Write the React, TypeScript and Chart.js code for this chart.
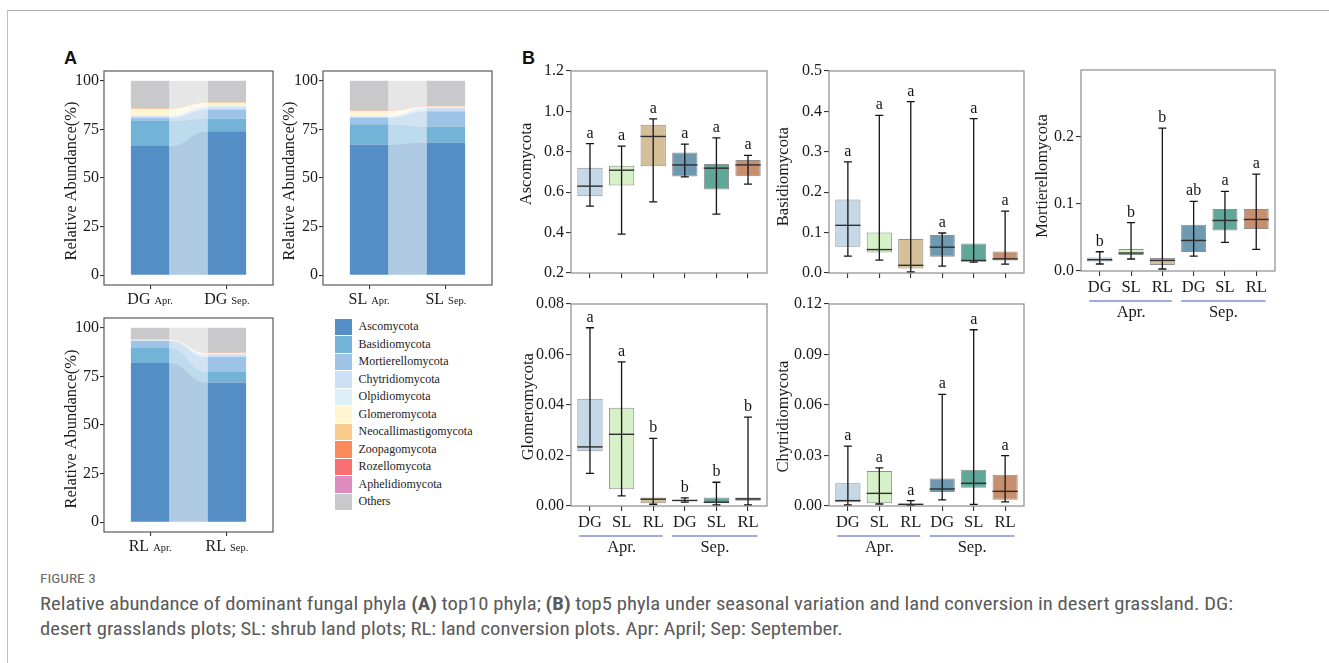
import React, { useEffect, useLayoutEffect, useRef, useState } from 'react';
import { Chart, registerables } from 'chart.js';

Chart.register(...registerables);

const SERIF = "'Liberation Serif', Tinos, 'Times New Roman', serif";
const SANS = "'Liberation Sans', Arial, Helvetica, sans-serif";
const CAPTION_FONT = "'Roboto Condensed', 'Liberation Sans Narrow', 'Open Sans', sans-serif";

// ---------------- Panel A: relative abundance (%) of top10 phyla ----------------
const phyla = [
  'Ascomycota',
  'Basidiomycota',
  'Mortierellomycota',
  'Chytridiomycota',
  'Olpidiomycota',
  'Glomeromycota',
  'Neocallimastigomycota',
  'Zoopagomycota',
  'Rozellomycota',
  'Aphelidiomycota',
  'Others',
];
const dgApr = [66.4, 12.9, 1.7, 0.8, 0.4, 3.3, 0.2, 0.05, 0.05, 0.05, 14.15];
const dgSep = [74.0, 6.5, 4.7, 1.2, 0.6, 1.6, 0.2, 0.1, 0.05, 0.05, 11.0];
const slApr = [67.2, 10.4, 3.4, 0.6, 0.4, 2.4, 0.2, 0.1, 0.05, 0.05, 15.2];
const slSep = [68.2, 8.3, 7.8, 1.7, 0.4, 0.3, 0.1, 0.1, 0.05, 0.05, 13.0];
const rlApr = [81.9, 7.7, 3.6, 0.2, 0.1, 0.3, 0.05, 0.05, 0.02, 0.02, 6.06];
const rlSep = [71.9, 5.3, 7.8, 1.2, 0.3, 0.3, 0.3, 0.1, 0.05, 0.05, 12.7];
const abundanceTicks = [0, 25, 50, 75, 100];

// ---------------- Panel B: box statistics [min, Q1, median, Q3, max] ----------------
const sites = ['DG', 'SL', 'RL', 'DG', 'SL', 'RL'];
const seasons = ['Apr.', 'Sep.'];

const ascomycota = [
  [0.531, 0.58, 0.63, 0.721, 0.84],
  [0.392, 0.633, 0.709, 0.731, 0.828],
  [0.552, 0.729, 0.876, 0.934, 0.963],
  [0.676, 0.678, 0.735, 0.797, 0.838],
  [0.491, 0.613, 0.719, 0.739, 0.869],
  [0.64, 0.679, 0.735, 0.759, 0.782],
];
const ascomycotaLetters = ['a', 'a', 'a', 'a', 'a', 'a'];
const ascomycotaTicks = [0.2, 0.4, 0.6, 0.8, 1.0, 1.2];

const basidiomycota = [
  [0.042, 0.065, 0.118, 0.182, 0.275],
  [0.032, 0.051, 0.058, 0.1, 0.39],
  [0.0025, 0.011, 0.019, 0.084, 0.424],
  [0.017, 0.04, 0.064, 0.094, 0.099],
  [0.027, 0.028, 0.031, 0.073, 0.382],
  [0.022, 0.031, 0.035, 0.053, 0.153],
];
const basidiomycotaLetters = ['a', 'a', 'a', 'a', 'a', 'a'];
const basidiomycotaTicks = [0, 0.1, 0.2, 0.3, 0.4, 0.5];

const mortierellomycota = [
  [0.0104, 0.0143, 0.0168, 0.0203, 0.0287],
  [0.0179, 0.0238, 0.0268, 0.0327, 0.072],
  [0.003, 0.0089, 0.0158, 0.0193, 0.213],
  [0.0223, 0.0283, 0.0455, 0.0689, 0.1036],
  [0.0426, 0.0604, 0.0753, 0.0923, 0.1185],
  [0.0321, 0.0625, 0.0768, 0.0923, 0.1443],
];
const mortierellomycotaLetters = ['b', 'b', 'b', 'ab', 'a', 'a'];
const mortierellomycotaTicks = [0, 0.1, 0.2];

const glomeromycota = [
  [0.0129, 0.0217, 0.0234, 0.0425, 0.0706],
  [0.004, 0.0066, 0.0284, 0.0389, 0.0571],
  [0.0007, 0.0011, 0.0027, 0.0034, 0.0268],
  [0.0015, 0.0019, 0.0022, 0.0023, 0.0032],
  [0.0004, 0.0011, 0.0015, 0.0034, 0.0094],
  [0.0004, 0.0021, 0.0028, 0.0034, 0.0352],
];
const glomeromycotaLetters = ['a', 'a', 'b', 'b', 'b', 'b'];
const glomeromycotaTicks = [0, 0.02, 0.04, 0.06, 0.08];

const chytridiomycota = [
  [0.0006, 0.0022, 0.0032, 0.0135, 0.0356],
  [0.0012, 0.0016, 0.0075, 0.0208, 0.0226],
  [0.0004, 0.0006, 0.001, 0.0014, 0.0032],
  [0.0036, 0.0083, 0.0101, 0.0164, 0.0663],
  [0.001, 0.0109, 0.0135, 0.0216, 0.1047],
  [0.0024, 0.0037, 0.0087, 0.0186, 0.0299],
];
const chytridiomycotaLetters = ['a', 'a', 'a', 'a', 'a', 'a'];
const chytridiomycotaTicks = [0, 0.03, 0.06, 0.09, 0.12];

// ---------------- styles ----------------
const phylumRGB: number[][] = [
  [84, 142, 196],
  [116, 179, 216],
  [157, 196, 230],
  [205, 223, 245],
  [222, 240, 247],
  [255, 245, 208],
  [250, 205, 142],
  [250, 138, 90],
  [248, 112, 112],
  [222, 140, 192],
  [201, 201, 203],
];
const solid = (c: number[]) => `rgb(${c[0]},${c[1]},${c[2]})`;
const faded = (c: number[]) => `rgba(${c[0]},${c[1]},${c[2]},0.47)`;
const boxFill = [
  'rgb(196,216,231)',
  'rgb(214,240,200)',
  'rgb(213,191,152)',
  'rgb(111,152,177)',
  'rgb(96,167,153)',
  'rgb(199,143,110)',
];

interface Area { l: number; t: number; r: number; b: number }
interface Dims {
  yAxisW: number; xAxisH: number; padTop: number; padRight: number;
  title: string; titleX: number; titleY: number;
}

function yTitlePlugin(d: Dims) {
  return {
    id: 'yTitle',
    afterDraw(chart: any) {
      const ctx = chart.ctx;
      ctx.save();
      ctx.translate(d.titleX, d.titleY);
      ctx.rotate(-Math.PI / 2);
      ctx.font = `16.5px ${SERIF}`;
      ctx.fillStyle = '#1a1a1a';
      ctx.textAlign = 'center';
      ctx.textBaseline = 'middle';
      ctx.fillText(d.title, 0, 0);
      ctx.restore();
    },
  };
}

function framePlugin(color: string) {
  return {
    id: 'frame',
    afterDraw(chart: any) {
      const { ctx, chartArea: a } = chart;
      ctx.save();
      ctx.strokeStyle = color;
      ctx.lineWidth = 1.2;
      ctx.strokeRect(a.left, a.top, a.right - a.left, a.bottom - a.top);
      ctx.restore();
    },
  };
}

function baseOptions(d: Dims) {
  return {
    responsive: false,
    animation: false,
    devicePixelRatio: 1,
    events: [],
    layout: { padding: { left: 0, right: d.padRight, top: d.padTop, bottom: 0 } },
    plugins: { legend: { display: false }, tooltip: { enabled: false } },
  };
}

function yAxis(d: Dims, min: number, max: number, ticks: number[], decimals: number, tickLen: number, pad: number, stacked = false) {
  return {
    type: 'linear',
    min,
    max,
    stacked,
    grid: { display: true, drawOnChartArea: false, drawTicks: true, tickLength: tickLen, tickColor: '#333', lineWidth: 1.1 },
    border: { display: false },
    ticks: {
      font: { family: SERIF, size: 16 },
      color: '#1a1a1a',
      padding: pad,
      callback: (v: any) => Number(v).toFixed(decimals),
    },
    afterBuildTicks: (s: any) => { s.ticks = ticks.map((v) => ({ value: v })); },
    afterFit: (s: any) => { s.width = d.yAxisW; s.paddingTop = 0; s.paddingBottom = 0; },
  };
}

function xAxis(d: Dims, min: number, max: number, tickValues: number[], labels: string[] | null, tickLen: number, stacked = false) {
  return {
    type: 'linear',
    min,
    max,
    offset: false,
    stacked,
    grid: { display: true, offset: false, drawOnChartArea: false, drawTicks: true, tickLength: tickLen, tickColor: '#333', lineWidth: 1.1 },
    border: { display: false },
    ticks: {
      display: !!labels,
      autoSkip: false,
      maxRotation: 0,
      minRotation: 0,
      font: { family: SERIF, size: 16.5 },
      color: '#1a1a1a',
      padding: 2,
      callback: (v: any) => (labels ? labels[Math.round(Number(v)) - 1] ?? '' : ''),
    },
    afterBuildTicks: (s: any) => { s.ticks = tickValues.map((v) => ({ value: v })); },
    afterFit: (s: any) => { s.height = d.xAxisH; s.paddingLeft = 0; s.paddingRight = 0; },
  };
}

// ---------- Panel A (alluvial stacked bars) ----------
function flowPlugin() {
  return {
    id: 'flows',
    beforeDatasetsDraw(chart: any) {
      const ctx = chart.ctx;
      chart.data.datasets.forEach((_ds: any, i: number) => {
        const meta = chart.getDatasetMeta(i);
        const a: any = meta.data[0];
        const b: any = meta.data[1];
        const x1 = a.x + a.width / 2;
        const x2 = b.x - b.width / 2;
        const xm = (x1 + x2) / 2;
        ctx.save();
        ctx.beginPath();
        ctx.moveTo(x1, a.y);
        ctx.bezierCurveTo(xm, a.y, xm, b.y, x2, b.y);
        ctx.lineTo(x2, b.base);
        ctx.bezierCurveTo(xm, b.base, xm, a.base, x1, a.base);
        ctx.closePath();
        ctx.fillStyle = faded(phylumRGB[i]);
        ctx.fill();
        ctx.restore();
      });
    },
  };
}

function pairLabelPlugin(site: string) {
  return {
    id: 'pairLabels',
    afterDraw(chart: any) {
      const { ctx, chartArea, scales } = chart;
      seasons.forEach((season, i) => {
        const px = scales.x.getPixelForValue(i + 1);
        ctx.save();
        ctx.fillStyle = '#1a1a1a';
        ctx.textBaseline = 'alphabetic';
        ctx.textAlign = 'left';
        ctx.font = `16px ${SERIF}`;
        const w1 = ctx.measureText(site + ' ').width;
        ctx.font = `10.5px ${SERIF}`;
        const w2 = ctx.measureText(season).width;
        const start = px - (w1 + w2) / 2;
        const yb = chartArea.bottom + 19;
        ctx.font = `16px ${SERIF}`;
        ctx.fillText(site, start, yb);
        ctx.font = `10.5px ${SERIF}`;
        ctx.fillText(season, start + w1, yb);
        ctx.restore();
      });
    },
  };
}

function alluvialConfig(site: string, apr: number[], sep: number[], d: Dims) {
  const datasets = phyla.map((name, i) => ({
    label: name,
    data: [{ x: 1, y: apr[i] }, { x: 2, y: sep[i] }],
    backgroundColor: solid(phylumRGB[i]),
    borderWidth: 0,
    barPercentage: 0.5,
    categoryPercentage: 1,
    stack: 'all',
  }));
  return {
    type: 'bar',
    data: { datasets },
    options: {
      ...baseOptions(d),
      scales: {
        x: xAxis(d, 0.4, 2.6, [1, 2], null, 4, true),
        y: yAxis(d, -5, 105, abundanceTicks, 0, 4, 1, true),
      },
    },
    plugins: [flowPlugin(), framePlugin('#5a5a5a'), yTitlePlugin(d), pairLabelPlugin(site)],
  };
}

// ---------- Panel B (box plots) ----------
function boxPlugin(stats: number[][], letters: string[]) {
  return {
    id: 'boxWhiskers',
    afterDatasetsDraw(chart: any) {
      const { ctx, scales } = chart;
      const meta = chart.getDatasetMeta(0);
      stats.forEach((s, i) => {
        const el: any = meta.data[i];
        const px = scales.x.getPixelForValue(i + 1);
        const half = el.width / 2;
        const yLo = scales.y.getPixelForValue(s[0]);
        const yMed = scales.y.getPixelForValue(s[2]);
        const yHi = scales.y.getPixelForValue(s[4]);
        ctx.save();
        ctx.strokeStyle = '#151515';
        ctx.lineWidth = 1.3;
        ctx.beginPath();
        ctx.moveTo(px, yLo); ctx.lineTo(px, yHi);
        ctx.moveTo(px - 4, yLo); ctx.lineTo(px + 4, yLo);
        ctx.moveTo(px - 4, yHi); ctx.lineTo(px + 4, yHi);
        ctx.stroke();
        ctx.strokeStyle = '#2e2e2e';
        ctx.lineWidth = 1.4;
        ctx.beginPath();
        ctx.moveTo(px - half, yMed); ctx.lineTo(px + half, yMed);
        ctx.stroke();
        ctx.fillStyle = '#151515';
        ctx.font = `16px ${SERIF}`;
        ctx.textAlign = 'center';
        ctx.textBaseline = 'alphabetic';
        ctx.fillText(letters[i], px, yHi - 6);
        ctx.restore();
      });
    },
  };
}

function groupPlugin() {
  return {
    id: 'groups',
    afterDraw(chart: any) {
      const { ctx, chartArea, scales } = chart;
      const x = scales.x;
      const yl = chartArea.bottom + 30;
      const spans = [[0.66, 3.3], [3.6, 6.3]];
      const centers = [2, 4.95];
      ctx.save();
      ctx.strokeStyle = '#7b90d3';
      ctx.lineWidth = 1.4;
      spans.forEach(([a, b]) => {
        ctx.beginPath();
        ctx.moveTo(x.getPixelForValue(a), yl);
        ctx.lineTo(x.getPixelForValue(b), yl);
        ctx.stroke();
      });
      ctx.fillStyle = '#1a1a1a';
      ctx.font = `16.5px ${SERIF}`;
      ctx.textAlign = 'center';
      ctx.textBaseline = 'middle';
      seasons.forEach((s, i) => ctx.fillText(s, x.getPixelForValue(centers[i]), chartArea.bottom + 42));
      ctx.restore();
    },
  };
}

function boxConfig(stats: number[][], letters: string[], ticks: number[], max: number, decimals: number, withLabels: boolean, d: Dims) {
  const plugins: any[] = [framePlugin('#8c8c8c'), boxPlugin(stats, letters), yTitlePlugin(d)];
  if (withLabels) plugins.push(groupPlugin());
  return {
    type: 'bar',
    data: {
      datasets: [{
        data: stats.map((s, i) => ({ x: i + 1, y: [s[1], s[3]] })),
        backgroundColor: boxFill,
        borderColor: '#8e8e8e',
        borderWidth: 1,
        borderSkipped: false,
        barPercentage: 0.8,
        categoryPercentage: 1,
      }],
    },
    options: {
      ...baseOptions(d),
      scales: {
        x: xAxis(d, 0.4, 6.6, [1, 2, 3, 4, 5, 6], withLabels ? sites : null, 5),
        y: yAxis(d, ticks[0], max, ticks, decimals, 5, 2),
      },
    },
    plugins,
  };
}

function ChartCanvas(props: {
  area: Area; title: string; titleX: number; titleY: number; padTop: number; xAxisH: number;
  build: (d: Dims) => any;
}) {
  const { area, title, titleX, titleY, padTop, xAxisH, build } = props;
  const ref = useRef<HTMLCanvasElement | null>(null);
  const padRight = 4;
  const left = Math.round(titleX - 12);
  const top = area.t - padTop;
  const width = area.r - left + padRight;
  const height = area.b - top + xAxisH;
  useEffect(() => {
    const d: Dims = {
      yAxisW: area.l - left, xAxisH, padTop, padRight,
      title, titleX: titleX - left, titleY: titleY - top,
    };
    const chart = new Chart(ref.current as HTMLCanvasElement, build(d));
    return () => chart.destroy();
  }, []);
  return (
    <canvas
      ref={ref}
      width={width}
      height={height}
      style={{ position: 'absolute', left, top, width, height }}
    />
  );
}

function Legend() {
  return (
    <div style={{ position: 'absolute', left: 335, top: 318 }}>
      {phyla.map((p, i) => (
        <div
          key={p}
          style={{
            position: 'absolute', left: 0, top: i * 17.5, height: 17.5,
            display: 'flex', alignItems: 'center', whiteSpace: 'nowrap',
          }}
        >
          <div style={{ width: 16.5, height: 16.5, background: solid(phylumRGB[i]) }} />
          <span style={{ marginLeft: 7, fontFamily: SERIF, fontSize: 12, color: '#222' }}>{p}</span>
        </div>
      ))}
    </div>
  );
}

function Caption() {
  const lineRef = useRef<HTMLSpanElement | null>(null);
  const [sx, setSx] = useState(1);
  useLayoutEffect(() => {
    const w = lineRef.current ? lineRef.current.getBoundingClientRect().width : 0;
    if (w > 0) setSx(1193 / w);
  }, []);
  return (
    <div
      style={{
        position: 'absolute', left: 40, top: 570, transform: `scaleX(${sx})`,
        transformOrigin: '0 0', whiteSpace: 'nowrap', fontFamily: CAPTION_FONT, color: '#5a5a5a',
      }}
    >
      <div style={{ fontSize: 13, lineHeight: '18px', color: '#6a6a6a' }}>FIGURE 3</div>
      <div style={{ fontSize: 17.5, lineHeight: '25px', marginTop: 3.5 }}>
        <span ref={lineRef}>
          Relative abundance of dominant fungal phyla <b>(A)</b> top10 phyla; <b>(B)</b> top5 phyla under
          seasonal variation and land conversion in desert grassland. DG:
        </span>
        <br />
        desert grasslands plots; SL: shrub land plots; RL: land conversion plots. Apr: April; Sep: September.
      </div>
    </div>
  );
}

export default function App() {
  return (
    <div style={{ position: 'absolute', left: 0, top: 0, width: 1329, height: 663, background: '#fff', overflow: 'hidden' }}>
      <div
        style={{
          position: 'absolute', left: 7, top: 10, width: 1340, height: 700,
          borderTop: '1px solid #b0b0b0', borderLeft: '1px solid #c0c0c0',
        }}
      />
      <div style={{ position: 'absolute', left: 64, top: 49, fontFamily: SANS, fontWeight: 'bold', fontSize: 18, lineHeight: '18px', color: '#111' }}>A</div>
      <div style={{ position: 'absolute', left: 522, top: 49, fontFamily: SANS, fontWeight: 'bold', fontSize: 18, lineHeight: '18px', color: '#111' }}>B</div>

      <ChartCanvas area={{ l: 104, t: 71, r: 273, b: 285 }} title="Relative Abundance(%)" titleX={71.7} titleY={181}
        padTop={8} xAxisH={28} build={(d) => alluvialConfig('DG', dgApr, dgSep, d)} />
      <ChartCanvas area={{ l: 323, t: 71, r: 492, b: 285 }} title="Relative Abundance(%)" titleX={290} titleY={181}
        padTop={8} xAxisH={28} build={(d) => alluvialConfig('SL', slApr, slSep, d)} />
      <ChartCanvas area={{ l: 104, t: 318, r: 273, b: 532 }} title="Relative Abundance(%)" titleX={71.7} titleY={429}
        padTop={8} xAxisH={28} build={(d) => alluvialConfig('RL', rlApr, rlSep, d)} />
      <Legend />

      <ChartCanvas area={{ l: 571, t: 71, r: 767, b: 273 }} title="Ascomycota" titleX={526.7} titleY={164}
        padTop={12} xAxisH={12}
        build={(d) => boxConfig(ascomycota, ascomycotaLetters, ascomycotaTicks, 1.2, 1, false, d)} />
      <ChartCanvas area={{ l: 829, t: 71, r: 1024, b: 273 }} title="Basidiomycota" titleX={783.3} titleY={176.7}
        padTop={12} xAxisH={12}
        build={(d) => boxConfig(basidiomycota, basidiomycotaLetters, basidiomycotaTicks, 0.5, 1, false, d)} />
      <ChartCanvas area={{ l: 1081, t: 70, r: 1275, b: 271 }} title="Mortierellomycota" titleX={1042.7} titleY={176}
        padTop={12} xAxisH={52}
        build={(d) => boxConfig(mortierellomycota, mortierellomycotaLetters, mortierellomycotaTicks, 0.2995, 1, true, d)} />
      <ChartCanvas area={{ l: 571, t: 304, r: 767, b: 506 }} title="Glomeromycota" titleX={528.3} titleY={406.7}
        padTop={12} xAxisH={52}
        build={(d) => boxConfig(glomeromycota, glomeromycotaLetters, glomeromycotaTicks, 0.08, 2, true, d)} />
      <ChartCanvas area={{ l: 829, t: 304, r: 1024, b: 506 }} title="Chytridiomycota" titleX={783.3} titleY={416.7}
        padTop={12} xAxisH={52}
        build={(d) => boxConfig(chytridiomycota, chytridiomycotaLetters, chytridiomycotaTicks, 0.12, 2, true, d)} />

      <Caption />
    </div>
  );
}
